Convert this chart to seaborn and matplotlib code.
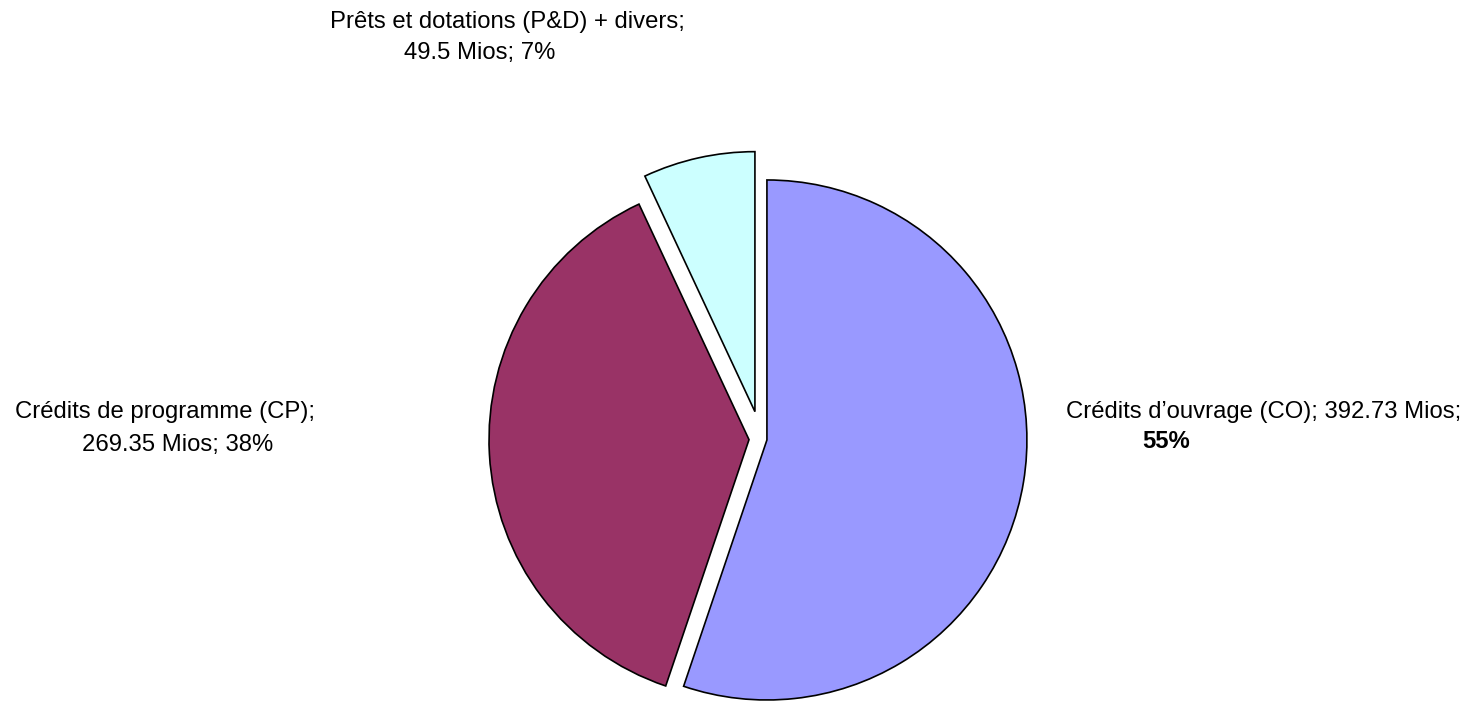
import matplotlib
matplotlib.use("Agg")
import matplotlib.pyplot as plt
import seaborn as sns

# Budget breakdown (millions)
categories = ["Crédits d’ouvrage (CO)", "Crédits de programme (CP)", "Prêts et dotations (P&D) + divers"]
values = [392.73, 269.35, 49.5]
colors = ["#9999FF", "#993366", "#CCFFFF"]

sns.set_theme(style="white")
plt.rcParams["font.family"] = ["Liberation Sans", "DejaVu Sans"]

W, H = 1467, 702
fig = plt.figure(figsize=(W / 100, H / 100), dpi=100)
ax = fig.add_axes([0, 0, 1, 1])

total = sum(values)
pcts = [round(v / total * 100) for v in values]

# pixel-based layout: y measured from the top of the canvas
def py(y):
    return H - y

radius = 260
center = (761, py(439))
explode = [6, 12, 28]

ax.pie(values, colors=colors, explode=explode, radius=radius, center=center,
       startangle=90, counterclock=False,
       wedgeprops=dict(edgecolor="black", linewidth=1.2))

ax.set_xlim(0, W)
ax.set_ylim(0, H)
ax.set_aspect("equal")
ax.axis("off")

fs = 17.2
txt = dict(fontsize=fs, color="black", ha="center", va="center")

# Crédits d'ouvrage
ax.text(1264, py(412), f"{categories[0]}; {values[0]:g} Mios;", **txt)
ax.text(1166, py(441), f"{pcts[0]}%", fontweight="bold", **txt)

# Crédits de programme
ax.text(165, py(412), f"{categories[1]};", **txt)
ax.text(178, py(445), f"{values[1]:g} Mios; {pcts[1]}%", **txt)

# Prêts et dotations
ax.text(507, py(22), f"{categories[2]};", **txt)
ax.text(480, py(53), f"{values[2]:g} Mios; {pcts[2]}%", **txt)

fig.savefig("out.png", dpi=100)
